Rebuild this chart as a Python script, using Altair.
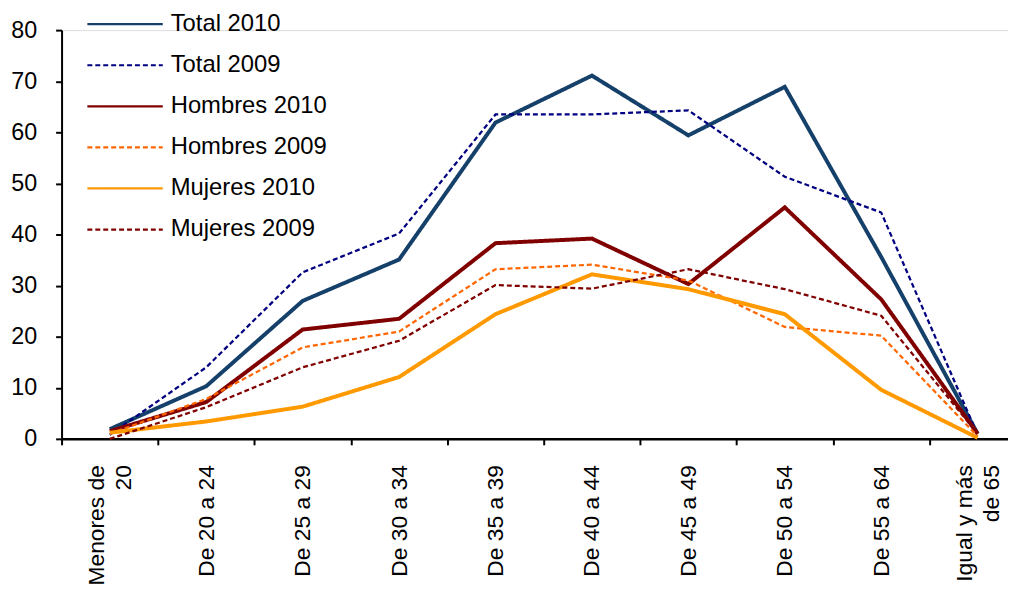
import altair as alt
import pandas as pd

categories = ["Menores de\n20", "De 20 a 24", "De 25 a 29", "De 30 a 34", "De 35 a 39",
              "De 40 a 44", "De 45 a 49", "De 50 a 54", "De 55 a 64", "Igual y más\nde 65"]

series = ["Total 2010", "Total 2009", "Hombres 2010", "Hombres 2009", "Mujeres 2010", "Mujeres 2009"]

total_2010 = [1.9, 10.3, 27.0, 35.1, 61.9, 71.1, 59.4, 68.9, 35.6, 1.0]
total_2009 = [0.8, 14.0, 32.6, 40.2, 63.5, 63.5, 64.3, 51.3, 44.3, 0.8]
hombres_2010 = [1.5, 7.2, 21.4, 23.5, 38.3, 39.2, 30.3, 45.3, 27.3, 1.0]
hombres_2009 = [1.0, 7.8, 17.9, 21.0, 33.2, 34.1, 31.0, 21.9, 20.2, 0.5]
mujeres_2010 = [1.2, 3.4, 6.3, 12.1, 24.4, 32.2, 29.3, 24.4, 9.6, 0.2]
mujeres_2009 = [0.0, 6.2, 14.0, 19.2, 30.1, 29.4, 33.2, 29.3, 24.1, 1.0]

values = [total_2010, total_2009, hombres_2010, hombres_2009, mujeres_2010, mujeres_2009]

colors = ["#15406A", "#000080", "#800000", "#FF6600", "#FF9900", "#800000"]
dashes = [[1, 0], [5, 3], [1, 0], [5, 3], [1, 0], [5, 3]]

rows = []
for s, vals in zip(series, values):
    for c, v in zip(categories, vals):
        rows.append({"grupo": c, "serie": s, "valor": v})
df = pd.DataFrame(rows)

FONT = "Liberation Sans"

legend = alt.Legend(
    title=None, orient="none", legendX=52, legendY=-18,
    symbolType="M-3.8,0H3.8", symbolSize=400, symbolStrokeWidth=2.25,
    symbolFillColor="transparent",
    labelFontSize=24, labelFont=FONT, labelColor="#000000", labelOffset=34,
    rowPadding=17.4,
)

chart = alt.Chart(df).transform_calculate(
    w="indexof(datum.serie, '2010') >= 0 ? 4 : 2.25"
).mark_line(clip=False).encode(
    x=alt.X("grupo:N", sort=categories,
            scale=alt.Scale(type="band", paddingInner=0, paddingOuter=0, range=[0, 972]),
            axis=alt.Axis(title=None, labelAngle=270, labelAlign="right", labelBaseline="middle",
                          labelFontSize=23, labelFont=FONT, labelColor="#000000",
                          labelExpr="split(datum.label, '\\n')", labelLineHeight=27,
                          labelOffset={"condition": {"test": "indexof(datum.label, '\\n') >= 0", "value": -13}, "value": 0},
                          labelPadding=20, tickBand="extent", tickSize=6, tickWidth=2,
                          tickColor="#000000", domainColor="#000000", domainWidth=2.5,
                          grid=False, labelOverlap=False)),
    y=alt.Y("valor:Q", scale=alt.Scale(domain=[0, 80], nice=False, zero=True),
            axis=alt.Axis(title=None, values=list(range(0, 81, 10)), grid=False,
                          labelFontSize=23.5, labelFont=FONT, labelColor="#000000",
                          labelPadding=19, tickSize=6, tickWidth=2, tickColor="#000000",
                          domainColor="#000000", domainWidth=2)),
    color=alt.Color("serie:N", sort=series, scale=alt.Scale(domain=series, range=colors), legend=legend),
    strokeDash=alt.StrokeDash("serie:N", sort=series, scale=alt.Scale(domain=series, range=dashes), legend=legend),
    strokeWidth=alt.StrokeWidth("w:Q", scale=None, legend=None),
).properties(
    width=954, height=412,
    autosize=alt.AutoSizeParams(type="none"),
    padding={"left": 54, "top": 20, "right": 0, "bottom": 144},
).configure_view(stroke=None).configure(font=FONT, background="#ffffff")

chart.save("out.html", embed_options={"renderer": "svg", "actions": False})
